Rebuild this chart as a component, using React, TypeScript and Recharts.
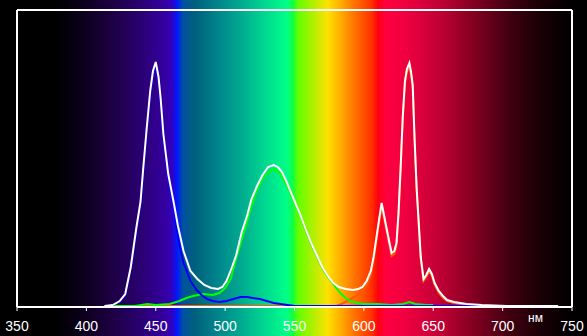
import { Line, LineChart, ReferenceLine, XAxis, YAxis } from "recharts";

// wavelength (nm) / relative intensity pairs
const whiteNm = [413, 419, 424, 428, 432, 436, 439, 441, 443.5, 446, 448, 450, 452, 453.5, 455.5, 459, 463, 466, 470, 475, 480, 485, 490, 495, 498, 501, 505, 508, 512, 516, 519, 523, 527, 531, 535, 538, 541, 544, 547, 550, 554, 558, 562, 566, 570, 574, 578, 582, 587, 592, 596, 599, 602, 605, 607, 609, 611, 612.8, 614.5, 616.5, 618.5, 620, 622, 623.5, 625, 626.5, 628, 629.6, 631, 632.8, 634, 635.2, 636.5, 638, 639.5, 641, 643, 645, 647, 649, 651, 654, 657, 660, 665, 674, 685, 703, 740];
const whiteVal = [1, 2, 6, 13, 40, 79, 105, 139, 179, 216, 236, 245, 230, 209, 173, 133, 104, 81, 56, 36, 28, 22, 19, 18, 20, 26, 40, 52, 75, 92, 108, 121, 132, 140, 142, 140, 135, 126, 116, 106, 93, 78, 64, 52, 40, 31, 24, 20, 18, 17, 18, 20, 26, 36, 50, 69, 88, 104, 92, 78, 64, 54, 56, 64, 95, 140, 190, 226, 238, 244, 235, 222, 170, 120, 85, 50, 28, 32, 38, 33, 24, 16, 11, 7, 5, 3, 2, 1, 1];

const blueNm = [415, 419, 424, 428, 432, 436, 439, 441, 443.5, 446, 448, 450, 452, 453.5, 455.5, 459, 463, 465, 467, 470, 472.3, 475, 479.5, 483, 487, 491, 496, 501, 506, 511, 516, 520, 525, 530, 535, 540, 545, 550, 703];
const blueVal = [1, 2, 5, 12, 38, 76, 102, 136, 176, 213, 233, 242, 227, 206, 170, 130, 99, 80, 63, 44, 36, 26, 17, 12, 8, 6, 5, 6, 8, 10, 10, 9, 8, 6, 4, 3, 2, 1, 1];

const greenNm = [419, 435, 444, 450, 460, 467, 472, 477, 484, 491, 496, 500, 504, 508, 512, 515.5, 519, 522.7, 526, 530, 534.7, 539.5, 543, 547, 550, 554, 558, 562, 566, 570, 574, 577, 580, 583, 586, 590, 595, 600, 610, 620, 628, 633, 637, 645, 650];
const greenVal = [1, 1, 3, 2, 3, 6, 9, 11, 13, 12, 14, 19, 28, 49, 67, 84, 101, 116, 126, 133, 138, 134, 125, 114, 105, 92, 77, 63, 51, 39, 30, 25, 19, 14, 10, 6, 4, 3, 3, 2, 3, 5, 3, 2, 2];

const redNm = [425, 580, 584, 588, 592, 596, 599, 602, 605, 607, 609, 611, 612.8, 614.5, 616.5, 618.5, 620, 622, 623.5, 625, 626.5, 628, 629.6, 631, 632.8, 634, 635.2, 636.5, 638, 639.5, 641, 643, 645, 647, 649, 651, 654, 657, 660, 665, 674, 681];
const redVal = [1, 1, 3, 6, 9, 12, 15, 22, 32, 47, 66, 85, 100, 89, 75, 61, 51, 53, 61, 92, 137, 187, 223, 235, 240, 232, 219, 167, 117, 82, 47, 26, 30, 36, 31, 22, 14, 9, 6, 4, 2, 1];

const ticks = [350, 400, 450, 500, 550, 600, 650, 700, 750];

const toRows = (nm: number[], val: number[]) => nm.map((x, i) => ({ nm: x, v: val[i] }));

const spectrum =
  "linear-gradient(to right, #000 0px, #000 55px, #0a0018 80px, #1c0040 110px, #2a0070 140px, #3400a0 165px, #3200c0 172px, #0018ff 177px, #0050a0 183px, #00607c 195px, #00808a 215px, #00a890 240px, #00d890 265px, #00ff88 287px, #10ff40 293px, #60ff00 298px, #b0f000 313px, #ffe000 328px, #ffb000 340px, #ff7000 355px, #ff3000 372px, #ff0010 378px, #ff0040 386px, #f00040 405px, #c00035 440px, #800020 475px, #400010 510px, #1a0006 540px, #050002 565px, #000 575px)";

export default function App() {
  const lineProps = { type: "linear" as const, dataKey: "v", dot: false, strokeWidth: 2, isAnimationActive: false };
  return (
    <div style={{ position: "absolute", left: 0, top: 0, width: 587, height: 336, background: spectrum }}>
      <LineChart width={587} height={336} margin={{ top: 10, right: 15, left: 17, bottom: 0 }}>
        <XAxis
          type="number"
          dataKey="nm"
          domain={[350, 750]}
          ticks={ticks}
          interval={0}
          height={29}
          allowDataOverflow
          axisLine={{ stroke: "#fff", strokeWidth: 2 }}
          tickLine={{ stroke: "#fff" }}
          tickSize={4}
          tickMargin={10}
          tick={{ fill: "#fff", fontSize: 14, fontFamily: "Liberation Sans Narrow, Liberation Sans, Arial" }}
        />
        <YAxis hide domain={[0, 297]} />
        <ReferenceLine x={350} stroke="#fff" strokeWidth={2} />
        <ReferenceLine x={750} stroke="#fff" strokeWidth={2} />
        <ReferenceLine y={297} stroke="#fff" strokeWidth={2} />
        <Line {...lineProps} data={toRows(redNm, redVal)} stroke="#ff5a00" />
        <Line {...lineProps} data={toRows(greenNm, greenVal)} stroke="#00ff00" />
        <Line {...lineProps} data={toRows(blueNm, blueVal)} stroke="#0000ff" />
        <Line {...lineProps} data={toRows(whiteNm, whiteVal)} stroke="#ffffff" />
      </LineChart>
      <div style={{ position: "absolute", left: 528, top: 311, color: "#fff", fontSize: 12, fontFamily: "Liberation Sans" }}>нм</div>
    </div>
  );
}
